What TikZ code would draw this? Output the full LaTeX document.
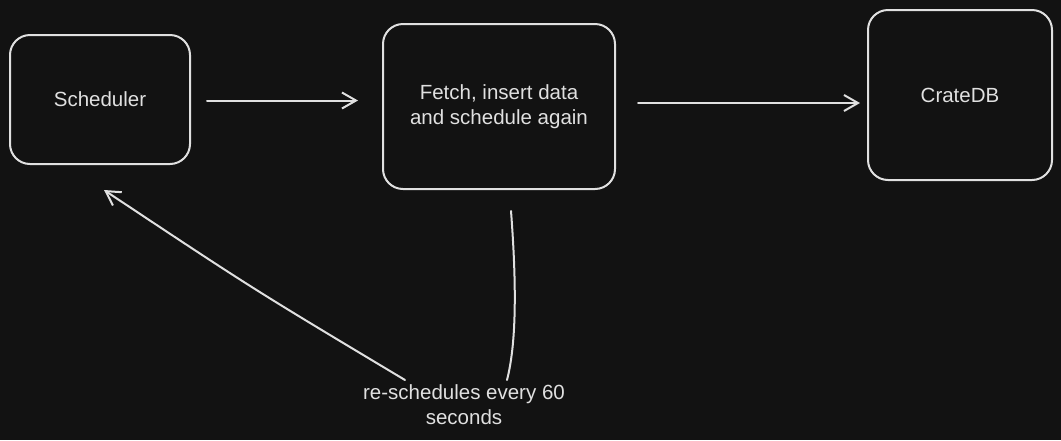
\documentclass[tikz,border=0pt]{standalone}
\usepackage{fontspec}
\setmainfont{Liberation Sans}
\usetikzlibrary{arrows.meta}
\definecolor{bg}{HTML}{121212}
\definecolor{ink}{HTML}{E0E0E0}
\begin{document}
\begin{tikzpicture}[x=1pt,y=-1pt,
  box/.style={draw=ink,line width=2pt,rounded corners=20pt,inner sep=0pt,align=center,text=ink,font=\fontsize{20.5}{25}\selectfont},
  conn/.style={draw=ink,line width=2pt,line cap=round},
  arr/.style={conn,-{Straight Barb[length=14pt,width=16pt,line width=2pt]}},
  lbl/.style={text=ink,align=center,inner sep=0pt,font=\fontsize{20.5}{25}\selectfont}]
\fill[bg] (0,0) rectangle (1061,440);
\useasboundingbox (0,0) rectangle (1061,440);
\node[box,minimum width=180pt,minimum height=129pt] (s) at (100,99.5) {Scheduler};
\node[box,minimum width=232pt,minimum height=165pt] (f) at (499,106.5) {Fetch, insert data\\and schedule again};
\node[box,minimum width=184pt,minimum height=170pt] (c) at (960,95) {CrateDB};
\node[lbl] (l) at (464,405) {re-schedules every 60\\seconds};
\coordinate (a1s) at (207,100.5);
\coordinate (a1e) at (358,100.5);
\coordinate (a2s) at (638,103);
\coordinate (a2e) at (860,103);
\coordinate (ftop) at (511,211);
\coordinate (lfb) at (507,380);
\coordinate (lsb) at (405,380);
\coordinate (stip) at (104,190);
\draw[arr] (a1s) -- (a1e);
\draw[arr] (a2s) -- (a2e);
\draw[conn] (ftop) .. controls (517,290) and (516,345) .. (lfb);
\draw[arr] (lsb) .. controls (253,289) .. (stip);
\end{tikzpicture}
\end{document}
